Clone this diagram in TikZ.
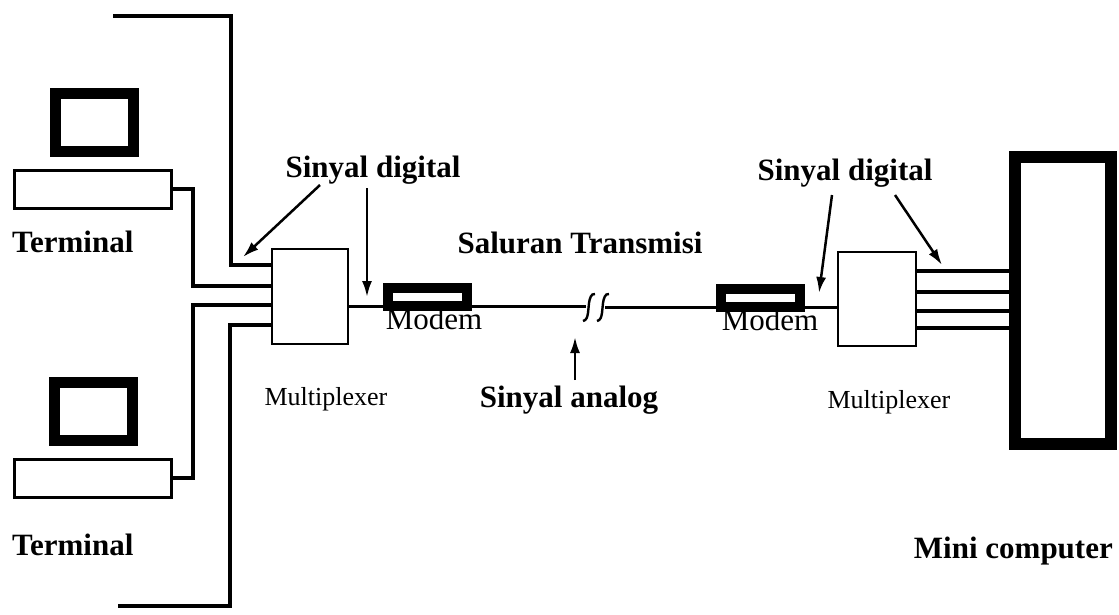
\documentclass[tikz,border=0pt]{standalone}
\usepackage{fontspec}
\setmainfont{Liberation Serif}
\usetikzlibrary{arrows.meta,calc}

\begin{document}
\begin{tikzpicture}[x=1pt,y=-1pt,
  wire/.style={line width=4.5pt},
  link/.style={line width=3pt},
  pointer/.style={line width=2.5pt,-{Latex[length=16pt,width=10pt]}},
  muxbox/.style={draw,line width=2pt,inner sep=0pt},
  modembox/.style={draw,line width=10pt,inner sep=0pt,minimum width=79pt,minimum height=18pt},
  screen/.style={draw,line width=11pt,inner sep=0pt,minimum width=78pt,minimum height=58pt},
  keyboard/.style={draw,line width=3pt,inner sep=0pt,minimum width=157pt,minimum height=38pt},
  bigbox/.style={draw,line width=12pt,inner sep=0pt,minimum width=96pt,minimum height=287pt},
  boldlabel/.style={font=\fontsize{31}{36}\selectfont\bfseries,inner sep=0pt},
  plainlabel/.style={font=\fontsize{31}{36}\selectfont,inner sep=0pt},
  smalllabel/.style={font=\fontsize{26}{30}\selectfont,inner sep=0pt},
  breakmark/.style={line width=2.4pt}
]
\useasboundingbox (0,0) rectangle (1119,614);

% terminals
\node[screen]   (scr1) at (94.5,122.5) {};
\node[keyboard] (kbd1) at (93,189) {};
\node[boldlabel,anchor=base west] (term1) at (12,252) {Terminal};
\node[screen]   (scr2) at (93,411.5) {};
\node[keyboard] (kbd2) at (93,478) {};
\node[boldlabel,anchor=base west] (term2) at (12,555) {Terminal};

% multiplexers
\node[muxbox,minimum width=76pt,minimum height=95pt] (muxL) at (310,296.5) {};
\node[muxbox,minimum width=78pt,minimum height=94pt] (muxR) at (877,299) {};
\node[smalllabel,anchor=base] (muxLlab) at (326,405) {Multiplexer};
\node[smalllabel,anchor=base] (muxRlab) at (889,408) {Multiplexer};

% modems
\node[modembox] (modL) at (427.5,297) {};
\node[modembox] (modR) at (760.5,298) {};
\node[plainlabel,anchor=base] (modLlab) at (434,329) {Modem};
\node[plainlabel,anchor=base] (modRlab) at (770,330) {Modem};

% mini computer
\node[bigbox] (mini) at (1063,300.5) {};
\node[boldlabel,anchor=base east] (minilab) at (1113,558) {Mini computer};

% input levels of the left multiplexer
\coordinate (inA) at (muxL.west |- 0,265);
\coordinate (inB) at (muxL.west |- 0,286);
\coordinate (inC) at (muxL.west |- 0,305);
\coordinate (inD) at (muxL.west |- 0,325);
\coordinate (topEnd) at (113,16);
\coordinate (botEnd) at (118,606);

\draw[wire] (topEnd) -- (231,16) |- (inA);
\draw[wire] (kbd1.east) -- (193,189) |- (inB);
\draw[wire] (kbd2.east) -- (193,478) |- (inC);
\draw[wire] (botEnd) -- (230,606) |- (inD);

% transmission line with a break
\coordinate (outL) at (muxL.east |- 0,306);
\coordinate (brkL) at (586,306);
\coordinate (brkR) at (605,307);
\coordinate (inR)  at (muxR.west |- 0,307);
\draw[link] (outL) -- (brkL);
\draw[link] (brkR) -- (inR);
\draw[breakmark] (595,294) to[out=170,in=80] (589,303) -- (588,313) to[out=-100,in=10] (583,321);
\draw[breakmark] (609,294) to[out=170,in=80] (603,303) -- (602,313) to[out=-100,in=10] (597,321);

% outputs to the mini computer
\foreach \y in {271,292,311,328}
  \draw[wire] (muxR.east |- 0,\y) -- (mini.west |- 0,\y);

% labels and pointers
\node[boldlabel,anchor=base] (sdL) at (373,177) {Sinyal digital};
\node[boldlabel,anchor=base] (sdR) at (845,180) {Sinyal digital};
\node[boldlabel,anchor=base] (salur) at (580,253) {Saluran Transmisi};
\node[boldlabel,anchor=base] (sa) at (569,407) {Sinyal analog};

\coordinate (pL1) at (243,257);
\coordinate (pL2) at (367,297);
\coordinate (pR1) at (819,293);
\coordinate (pR2) at (942,265);
\coordinate (pA)  at (575,337);

\draw[pointer] (320,185) -- (pL1);
\draw[pointer] (367,188) -- (pL2);
\draw[pointer] (832,195) -- (pR1);
\draw[pointer] (895,195) -- (pR2);
\draw[pointer] (575,380) -- (pA);
\end{tikzpicture}
\end{document}
